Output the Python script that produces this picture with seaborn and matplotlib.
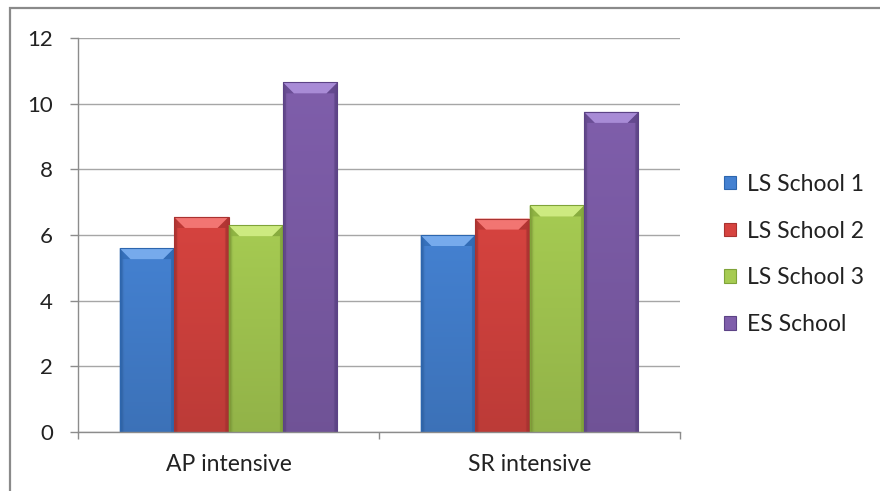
import numpy as np
import pandas as pd
import matplotlib
matplotlib.use("Agg")
import matplotlib.pyplot as plt
import seaborn as sns
from matplotlib.patches import Polygon, Rectangle, Patch
from matplotlib.colors import to_rgb

# ---- data -------------------------------------------------------------
categories = ["AP intensive", "SR intensive"]
schools = ["LS School 1", "LS School 2", "LS School 3", "ES School"]
ls_school_1 = [5.6, 6.0]
ls_school_2 = [6.55, 6.5]
ls_school_3 = [6.3, 6.9]
es_school = [10.65, 9.75]
y_ticks = [0, 2, 4, 6, 8, 10, 12]

# base / highlight / shadow shades for each school
base_colors = ["#4481D1", "#D6433F", "#A6CB52", "#7F5EAB"]
light_colors = ["#76AAEC", "#F27572", "#CDEA80", "#A88BD6"]
dark_colors = ["#2D66AE", "#A93230", "#7FA339", "#5C4386"]

values = [ls_school_1, ls_school_2, ls_school_3, es_school]
df = pd.DataFrame(
    [(c, s, v[i]) for s, v in zip(schools, values) for i, c in enumerate(categories)],
    columns=["category", "school", "value"],
)

# ---- figure -----------------------------------------------------------
sns.set_theme(style="white")
plt.rcParams["font.family"] = ["Lato", "DejaVu Sans"]

fig = plt.figure(figsize=(8.8, 4.91), dpi=100)
ax = fig.add_axes([78 / 880, 1 - 432 / 491, (680 - 78) / 880, (432 - 38) / 491])

sns.barplot(
    data=df, x="category", y="value", hue="school", order=categories,
    hue_order=schools, palette=base_colors, width=0.724, saturation=1,
    legend=False, ax=ax, edgecolor="none", linewidth=0,
)

ax.set_xlim(-0.5, 1.5)
ax.set_ylim(0, 12)

# shaded fill and bevel on each bar
px_x = 2.0 / (680 - 78)          # data units per pixel, x
px_y = 12.0 / (432 - 38)         # data units per pixel, y
bars = [p for p in ax.patches if isinstance(p, Rectangle)]
n_cat = len(categories)
for k, bar in enumerate(bars):
    si = k // n_cat
    x0, y0 = bar.get_x(), bar.get_y()
    w, h = bar.get_width(), bar.get_height()
    x1, y1 = x0 + w, y0 + h
    base = np.array(to_rgb(base_colors[si]))
    u = np.linspace(0, 1, 60)
    t = np.linspace(0, 1, 200)[:, None]
    horiz = 1 - 0.18 * np.clip((np.abs(u - 0.5) * 2 - 0.85) / 0.15, 0, 1)
    vert = 1 - 0.12 * t
    shade = (vert * horiz)[:, :, None] * base[None, None, :]
    im = ax.imshow(np.clip(shade, 0, 1), extent=(x0, x1, y0, y1), origin="upper",
                   aspect="auto", zorder=2.1, interpolation="bilinear")
    im.set_clip_path(bar)

    bx, by = 11 * px_x, 11 * px_y
    sx = 3 * px_x
    top = Polygon([(x0, y1), (x1, y1), (x1 - bx, y1 - by), (x0 + bx, y1 - by)],
                  closed=True, facecolor=light_colors[si], edgecolor="none", zorder=2.2)
    ax.add_patch(top)
    left = Polygon([(x0, y0), (x0, y1), (x0 + bx, y1 - by), (x0 + sx, y1 - by), (x0 + sx, y0)],
                   closed=True, facecolor=dark_colors[si], edgecolor="none", zorder=2.15, alpha=0.55)
    right = Polygon([(x1, y0), (x1, y1), (x1 - bx, y1 - by), (x1 - sx, y1 - by), (x1 - sx, y0)],
                    closed=True, facecolor=dark_colors[si], edgecolor="none", zorder=2.15, alpha=0.75)
    ax.add_patch(left)
    ax.add_patch(right)
    ax.add_patch(Rectangle((x0, y0), w, h, facecolor="none",
                           edgecolor=dark_colors[si], linewidth=0.8, zorder=2.3))

ax.set_xlim(-0.5, 1.5)
ax.set_ylim(0, 12)

# axes styling
grid_c = "#A6A6A6"
axis_c = "#8C8C8C"
ax.set_yticks(y_ticks)
ax.set_yticklabels([str(v) for v in y_ticks])
ax.yaxis.grid(True, color=grid_c, linewidth=1.0)
ax.set_axisbelow(True)
ax.tick_params(axis="y", left=True, length=6, width=1, color=axis_c,
               pad=12, labelsize=16, labelcolor="#222222")

ax.set_xticks([-0.5, 0.5, 1.5])
ax.set_xticklabels([])
ax.set_xticks([0, 1], minor=True)
ax.set_xticklabels(categories, minor=True)
ax.tick_params(axis="x", which="major", bottom=True, length=5, width=1, color=axis_c)
ax.tick_params(axis="x", which="minor", bottom=False, length=0, pad=16,
               labelsize=16.5, labelcolor="#222222")
ax.set_xlabel("")
ax.set_ylabel("")

for side in ["top", "right"]:
    ax.spines[side].set_visible(False)
for side in ["left", "bottom"]:
    ax.spines[side].set_color(axis_c)
    ax.spines[side].set_linewidth(1.0)

# legend
handles = [Patch(facecolor=base_colors[i], edgecolor=dark_colors[i], linewidth=0.8)
           for i in range(len(schools))]
fig.legend(handles, schools, loc="upper left", bbox_to_anchor=(703 / 880, 1 - 153 / 491),
           frameon=False, fontsize=16.5, handlelength=0.55, handleheight=0.55,
           handletextpad=0.45, labelspacing=1.13, labelcolor="#222222")

# chart-area frame
fig.patches.append(Rectangle((10 / 880, -0.1), 1.2, 1.1 - 8 / 491 + 0.0,
                             transform=fig.transFigure, fill=False,
                             edgecolor="#8A8A8A", linewidth=1.6, zorder=0))

fig.savefig("out.png", dpi=100, facecolor="white")
